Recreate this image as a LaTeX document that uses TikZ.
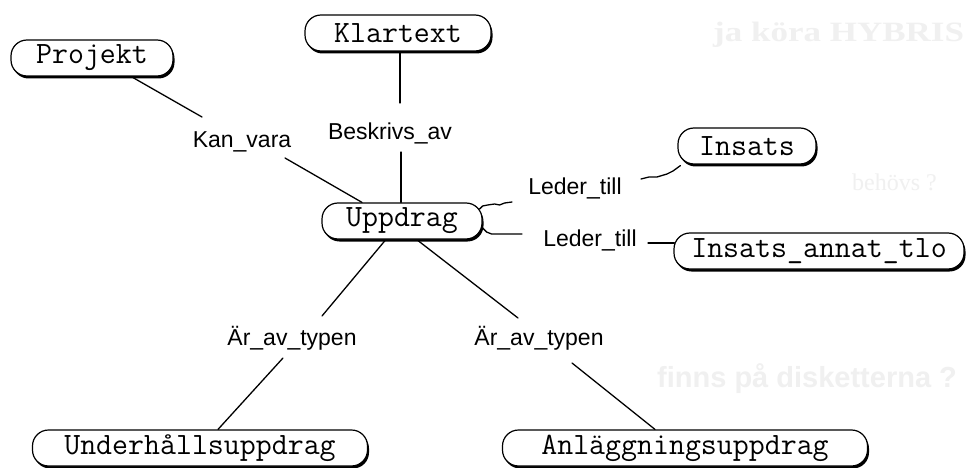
\documentclass[tikz,border=0pt]{standalone}
\usepackage{fontspec}
\setmainfont{Liberation Serif}
\newfontfamily\relfont{Liberation Sans}
\usetikzlibrary{calc,shadows}

\tikzset{
  entity/.style={draw=black, line width=1.2pt, fill=white, rounded corners=16pt,
    minimum height=36pt, inner sep=0pt, text=black,
    font=\ttfamily\fontsize{31}{31}\selectfont,
    drop shadow={shadow xshift=1.5pt, shadow yshift=-2.5pt, fill=black, opacity=1}},
  relation/.style={anchor=base, inner sep=0pt, text=black,
    font=\relfont\fontsize{23}{23}\selectfont},
  link/.style={draw=black, line width=1.3pt, line cap=round, line join=round},
  ghost/.style={anchor=base west, inner sep=0pt, text=black!6},
}

\begin{document}
\begin{tikzpicture}[x=1pt, y=-1pt]
  \fill[white] (0,0) rectangle (972,468);
  \useasboundingbox (0,0) rectangle (972,468);

  % faint print from the facing page
  \node[ghost, font=\bfseries\fontsize{28}{28}\selectfont] (g1) at (713,42)
    {\scalebox{1.25}[1]{ja köra HYBRIS}};
  \node[ghost, font=\fontsize{24}{24}\selectfont] (g2) at (852,190) {behövs ?};
  \node[ghost, font=\relfont\bfseries\fontsize{29}{29}\selectfont] (g3) at (657,387)
    {finns på disketterna ?};

  % entity boxes
  \node[entity, minimum width=162pt] (projekt)   at (92,58)   {Projekt};
  \node[entity, minimum width=186pt] (klartext)  at (398,33)  {Klartext};
  \node[entity, minimum width=138pt] (insats)    at (747,146) {Insats};
  \node[entity, minimum width=160pt] (uppdrag)   at (402,221) {Uppdrag};
  \node[entity, minimum width=290pt] (annat)     at (819,251) {Insats\_annat\_tlo};
  \node[entity, minimum width=335pt] (underhall) at (200,448) {Underhållsuppdrag};
  \node[entity, minimum width=365pt] (anlagg)    at (685,448) {Anläggningsuppdrag};

  % relation labels
  \node[relation] (kanvara)  at (242,148) {Kan\_vara};
  \node[relation] (beskrivs) at (390,140) {Beskrivs\_av};
  \node[relation] (leder1)   at (575,194) {Leder\_till};
  \node[relation] (leder2)   at (590,246) {Leder\_till};
  \node[relation] (typ1)     at (292,345) {Är\_av\_typen};
  \node[relation] (typ2)     at (539,345) {Är\_av\_typen};

  % Projekt -- Kan_vara -- Uppdrag
  \draw[link] ($(projekt.south)+(41,1)$) -- ($(kanvara.base)+(-40,-31)$);
  \draw[link] ($(kanvara.base)+(43,10)$) -- ($(uppdrag.north)+(-40,0)$);

  % Klartext -- Beskrivs_av -- Uppdrag
  \draw[link] ($(klartext.south)+(2,1)$) -- ($(beskrivs.base)+(10,-37)$);
  \draw[link] ($(beskrivs.base)+(11,12)$) -- ($(uppdrag.north)+(-1,0)$);

  % Uppdrag -- Leder_till -- Insats
  \draw[link] ($(uppdrag.east)+(-3,-12)$) -- ++(3,-3) -- ++(5,-1) -- ++(7,-1)
    -- ++(5,1) -- ++(5,-2) -- ($(leder1.base)+(-63,8)$);
  \draw[link] ($(leder1.base)+(66,-15)$) -- ++(8,-2) -- ++(8,0) -- ++(10,-3)
    -- ++(6,-3) -- ($(insats.south west)+(3,1)$);

  % Uppdrag -- Leder_till -- Insats_annat_tlo
  \draw[link] ($(uppdrag.east)+(0,7)$) -- ++(4,4) -- ++(5,2)
    -- ($(leder2.base)+(-68,-12)$);
  \draw[link] ($(leder2.base)+(58,-3)$) -- ($(annat.west)+(1,-8)$);

  % Uppdrag -- Är_av_typen -- Underhållsuppdrag
  \draw[link] ($(uppdrag.south)+(-17,1)$) -- ($(typ1.base)+(30,-29)$);
  \draw[link] ($(typ1.base)+(-9,13)$) -- ($(underhall.north)+(18,0)$);

  % Uppdrag -- Är_av_typen -- Anläggningsuppdrag
  \draw[link] ($(uppdrag.south)+(16,1)$) -- ($(typ2.base)+(-21,-27)$);
  \draw[link] ($(typ2.base)+(33,18)$) -- ($(anlagg.north)+(-30,0)$);
\end{tikzpicture}
\end{document}
